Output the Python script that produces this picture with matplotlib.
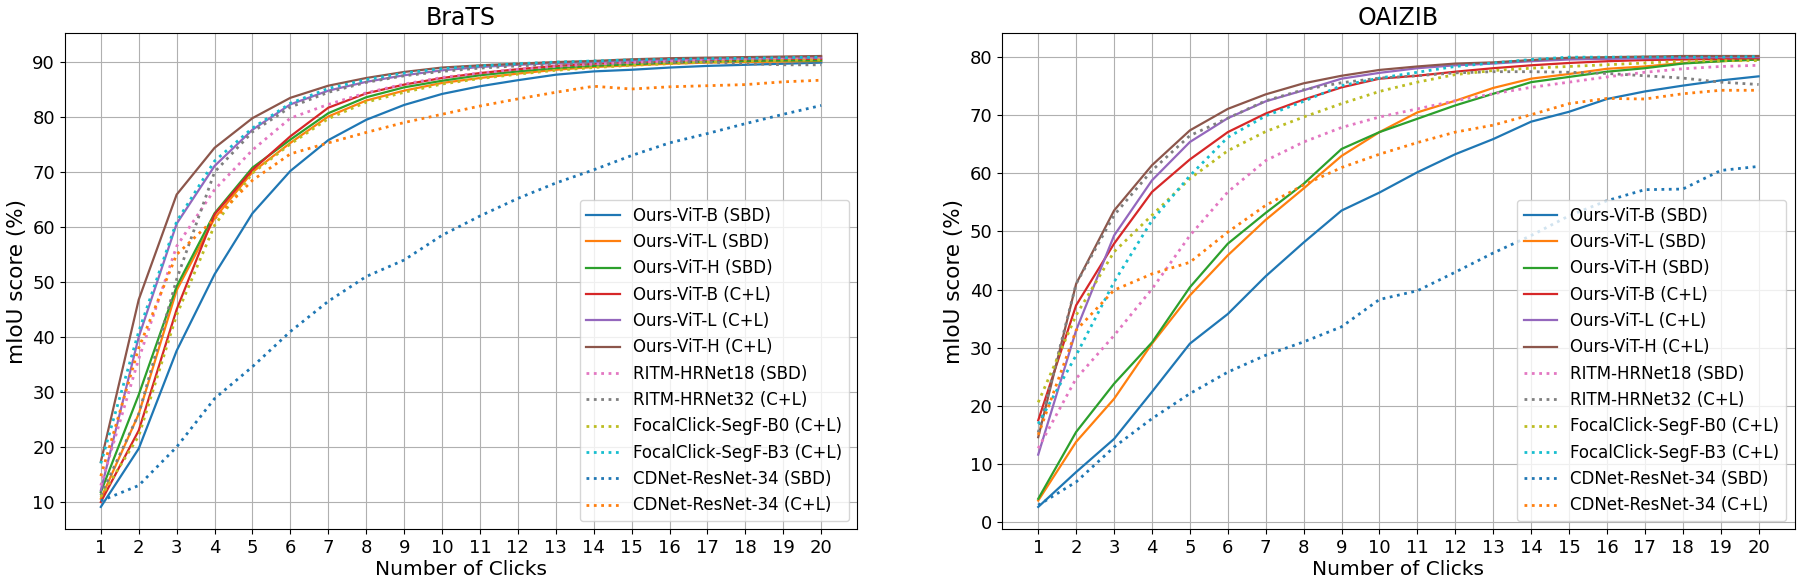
import matplotlib.pyplot as plt
import numpy as np

# 点击次数
clicks = list(range(1, 21))

labels = ['Ours-ViT-B (SBD)', 'Ours-ViT-L (SBD)', 'Ours-ViT-H (SBD)',
          'Ours-ViT-B (C+L)', 'Ours-ViT-L (C+L)', 'Ours-ViT-H (C+L)',
          'RITM-HRNet18 (SBD)', 'RITM-HRNet32 (C+L)',
          'FocalClick-SegF-B0 (C+L)', 'FocalClick-SegF-B3 (C+L)',
          'CDNet-ResNet-34 (SBD)', 'CDNet-ResNet-34 (C+L)']

# y轴刻度
brats_yticks = [10, 20, 30, 40, 50, 60, 70, 80, 90]
oai_yticks = [0, 10, 20, 30, 40, 50, 60, 70, 80]

# BraTS
brats_vitb_sbd = [9.1, 19.7, 37.5, 51.4, 62.5, 70.2, 75.8, 79.5, 82.2, 84.2, 85.6, 86.7, 87.7, 88.3, 88.6, 89.0, 89.3, 89.5, 89.7, 89.9]
brats_vitl_sbd = [10.6, 26.0, 48.5, 61.6, 70.0, 75.3, 80.1, 83.0, 84.8, 86.2, 87.1, 87.9, 88.6, 89.1, 89.4, 89.7, 89.9, 90.0, 90.1, 90.2]
brats_vith_sbd = [11.8, 29.5, 49.2, 62.5, 70.8, 75.9, 80.7, 83.6, 85.4, 86.6, 87.6, 88.3, 88.9, 89.3, 89.6, 89.9, 90.1, 90.2, 90.3, 90.3]
brats_vitb_cl = [10.0, 23.0, 45.0, 62.3, 70.4, 76.5, 81.7, 84.3, 85.9, 87.1, 88.0, 88.7, 89.3, 89.7, 90.0, 90.2, 90.4, 90.5, 90.6, 90.6]
brats_vitl_cl = [12.1, 40.0, 60.6, 71.1, 77.7, 82.3, 84.8, 86.4, 87.6, 88.5, 89.1, 89.5, 89.8, 90.0, 90.2, 90.4, 90.5, 90.6, 90.7, 90.8]
brats_vith_cl = [17.3, 46.8, 65.9, 74.4, 79.8, 83.5, 85.7, 87.1, 88.2, 89.0, 89.4, 89.7, 90.0, 90.2, 90.5, 90.7, 90.8, 90.9, 91.0, 91.1]
brats_ritm18 = [13.0, 36.0, 56.5, 66.8, 74.0, 79.8, 82.3, 84.4, 86.0, 87.2, 88.0, 88.7, 89.2, 89.6, 89.9, 90.1, 90.3, 90.4, 90.5, 90.6]
brats_ritm32 = [11.2, 26.0, 50.5, 70.0, 77.3, 81.8, 84.5, 86.3, 87.5, 88.3, 88.9, 89.3, 89.6, 89.8, 89.9, 90.0, 90.0, 89.7, 89.5, 89.5]
brats_fc_b0 = [10.9, 22.0, 44.0, 60.3, 69.8, 75.1, 79.7, 82.7, 84.5, 86.0, 87.0, 87.8, 88.5, 89.0, 89.4, 89.7, 90.0, 90.2, 90.3, 90.4]
brats_fc_b3 = [17.0, 41.0, 61.0, 72.0, 78.0, 82.5, 85.2, 86.8, 88.0, 88.8, 89.3, 89.7, 90.0, 90.2, 90.4, 90.5, 90.6, 90.7, 90.8, 90.9]
brats_cdnet_sbd = [10.2, 13.0, 20.0, 28.8, 34.6, 41.0, 46.5, 51.0, 54.0, 58.5, 62.0, 65.2, 68.0, 70.4, 73.0, 75.3, 77.0, 78.8, 80.5, 82.1]
brats_cdnet_cl = [14.7, 38.0, 55.0, 61.5, 68.5, 73.3, 75.3, 77.2, 79.0, 80.5, 82.0, 83.3, 84.5, 85.6, 85.1, 85.5, 85.7, 85.9, 86.4, 86.7]

# OAIZIB
oai_vitb_sbd = [2.6, 8.6, 14.3, 22.4, 30.7, 35.8, 42.3, 48.1, 53.6, 56.7, 60.2, 63.3, 65.9, 68.9, 70.6, 72.8, 74.1, 75.1, 76.0, 76.7]
oai_vitl_sbd = [3.7, 13.8, 21.2, 30.7, 39.0, 45.9, 52.0, 57.4, 63.0, 67.1, 70.5, 72.5, 74.7, 76.3, 77.1, 78.0, 78.4, 79.0, 79.3, 79.6]
oai_vith_sbd = [4.0, 15.5, 23.8, 30.9, 40.4, 47.9, 53.2, 58.2, 64.2, 67.1, 69.4, 71.7, 73.7, 75.7, 76.6, 77.5, 78.1, 78.9, 79.3, 79.6]
oai_vitb_cl = [17.5, 37.3, 47.9, 56.8, 62.4, 67.1, 70.3, 72.7, 74.8, 76.3, 76.8, 77.5, 78.1, 78.6, 79.0, 79.3, 79.5, 79.6, 79.7, 79.8]
oai_vitl_cl = [11.6, 33.0, 49.3, 58.8, 65.4, 69.5, 72.4, 74.3, 76.3, 77.3, 78.1, 78.6, 78.9, 79.3, 79.6, 79.7, 79.8, 79.9, 80.0, 80.0]
oai_vith_cl = [14.6, 41.0, 53.6, 61.4, 67.4, 71.1, 73.6, 75.5, 76.8, 77.8, 78.4, 78.9, 79.1, 79.5, 79.9, 80.0, 80.1, 80.2, 80.2, 80.2]
oai_ritm18 = [12.7, 24.7, 32.1, 40.1, 49.3, 56.8, 62.2, 65.4, 67.9, 69.7, 71.1, 72.5, 73.7, 74.8, 75.7, 76.6, 77.4, 78.0, 78.4, 78.6]
oai_ritm32 = [15.4, 41.0, 52.8, 60.5, 66.5, 69.5, 72.5, 74.4, 75.6, 76.4, 76.8, 77.3, 77.5, 77.5, 77.4, 77.2, 76.8, 76.4, 75.7, 75.3]
oai_fc_b0 = [20.6, 35.6, 46.5, 52.8, 59.1, 63.9, 67.2, 69.7, 72.0, 74.1, 75.7, 77.0, 77.7, 78.1, 78.4, 78.7, 79.0, 79.3, 79.4, 79.4]
oai_fc_b3 = [16.9, 28.7, 41.3, 51.9, 59.6, 66.2, 69.9, 72.4, 75.1, 76.4, 77.4, 78.4, 79.0, 79.6, 80.0, 80.0, 80.0, 80.0, 80.0, 80.1]
oai_cdnet_sbd = [2.9, 6.9, 12.9, 17.8, 22.1, 25.8, 28.7, 31.0, 33.6, 38.3, 39.8, 43.0, 46.3, 49.3, 52.7, 55.3, 57.2, 57.3, 60.5, 61.2]
oai_cdnet_cl = [15.0, 33.0, 39.9, 42.7, 44.7, 49.9, 54.5, 58.0, 61.0, 63.3, 65.3, 67.1, 68.3, 70.1, 72.0, 72.9, 72.8, 73.7, 74.3, 74.3]

brats = [brats_vitb_sbd, brats_vitl_sbd, brats_vith_sbd, brats_vitb_cl, brats_vitl_cl, brats_vith_cl,
         brats_ritm18, brats_ritm32, brats_fc_b0, brats_fc_b3, brats_cdnet_sbd, brats_cdnet_cl]
oai = [oai_vitb_sbd, oai_vitl_sbd, oai_vith_sbd, oai_vitb_cl, oai_vitl_cl, oai_vith_cl,
       oai_ritm18, oai_ritm32, oai_fc_b0, oai_fc_b3, oai_cdnet_sbd, oai_cdnet_cl]

# 前6条是实线，后面是点线
colors = ['C0', 'C1', 'C2', 'C3', 'C4', 'C5', 'C6', 'C7', 'C8', 'C9', 'C0', 'C1']


def draw(ax, curves, yticks, title):
    for i, ys in enumerate(curves):
        if i < 6:
            ax.plot(clicks, ys, color=colors[i], linestyle='-', linewidth=1.6, label=labels[i])
        else:
            ax.plot(clicks, ys, color=colors[i], linestyle=':', linewidth=2.0, label=labels[i])
    ax.set_title(title, fontsize=17)
    ax.set_xlabel('Number of Clicks', fontsize=14.5, labelpad=2)
    ax.set_ylabel('mIoU score (%)', fontsize=15.5)
    ax.set_xticks(clicks)
    ax.set_yticks(yticks)
    ax.tick_params(labelsize=13)
    ax.grid(True)
    ax.legend(loc='lower right', fontsize=12)


fig, axes = plt.subplots(1, 2, figsize=(18, 5.87), dpi=100)
draw(axes[0], brats, brats_yticks, 'BraTS')
draw(axes[1], oai, oai_yticks, 'OAIZIB')
fig.subplots_adjust(left=0.036, right=0.997, bottom=0.098, top=0.943, wspace=0.183)
plt.savefig('out.png', dpi=100)
